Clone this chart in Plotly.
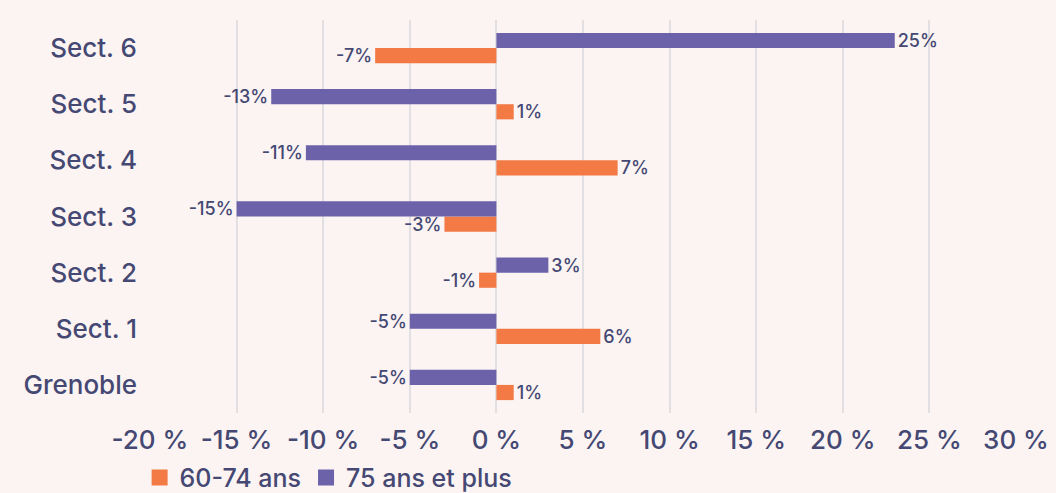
import plotly.graph_objects as go

# categories bottom -> top
categories = ["Grenoble", "Sect. 1", "Sect. 2", "Sect. 3", "Sect. 4", "Sect. 5", "Sect. 6"]
vals_60_74 = [1, 6, -1, -3, 7, 1, -7]
vals_75_plus = [-5, -5, 3, -15, -11, -13, 23]
labels_60_74 = ["1%", "6%", "-1%", "-3%", "7%", "1%", "-7%"]
labels_75_plus = ["-5%", "-5%", "3%", "-15%", "-11%", "-13%", "25%"]
tick_vals = [-20, -15, -10, -5, 0, 5, 10, 15, 20, 25, 30]
tick_text = ["-20 %", "-15 %", "-10 %", "-5 %", "0 %", "5 %", "10 %", "15 %", "20 %", "25 %", "30 %"]

ORANGE = "#f37a45"
PURPLE = "#6b62a9"
INK = "#454873"
BG = "#fbf4f2"
FONT = "Inter"

fig = go.Figure()
for name, vals, labels, color in [("60-74 ans", vals_60_74, labels_60_74, ORANGE),
                                  ("75 ans et plus", vals_75_plus, labels_75_plus, PURPLE)]:
    fig.add_trace(go.Bar(
        y=categories, x=vals, orientation="h", name=name, showlegend=False,
        marker=dict(color=color, line=dict(width=0)),
        text=labels, textposition="outside", cliponaxis=False,
        textfont=dict(color=INK, size=18, family=FONT, weight=500),
    ))
    # legend entry only (bigger square swatch than bar legend)
    fig.add_trace(go.Scatter(
        x=[None], y=[None], mode="markers", name=name,
        marker=dict(symbol="square", size=22, color=color),
    ))

fig.update_layout(
    width=1056, height=493,
    barmode="group", bargap=0.46, bargroupgap=0,
    paper_bgcolor=BG, plot_bgcolor=BG,
    margin=dict(l=150, r=40, t=20, b=80, autoexpand=False),
    font=dict(family=FONT, color=INK, size=26, weight=500),
    showlegend=True,
    legend=dict(orientation="h", x=-0.012, xanchor="left", y=-0.165, yanchor="middle",
                font=dict(size=25, color=INK, weight=500), traceorder="normal",
                itemsizing="trace", bgcolor="rgba(0,0,0,0)"),
    uniformtext=dict(minsize=18, mode="show"),
)
fig.update_xaxes(
    range=[-20, 30], tickvals=tick_vals, ticktext=tick_text,
    showgrid=True, gridcolor="#e2dfe3", gridwidth=2,
    zeroline=True, zerolinecolor="#e2dfe3", zerolinewidth=2,
    showline=False, ticks="", ticklabelstandoff=9,
    tickfont=dict(size=26, color=INK, weight=500),
)
fig.update_yaxes(
    categoryorder="array", categoryarray=categories,
    showgrid=False, zeroline=False, showline=False, ticks="",
    ticklabelstandoff=12, tickfont=dict(size=26, color=INK, weight=500),
)

fig.write_html("out.html", config={"displayModeBar": False},
               post_script="document.body.style.margin='0';document.body.style.background='%s';" % BG)
